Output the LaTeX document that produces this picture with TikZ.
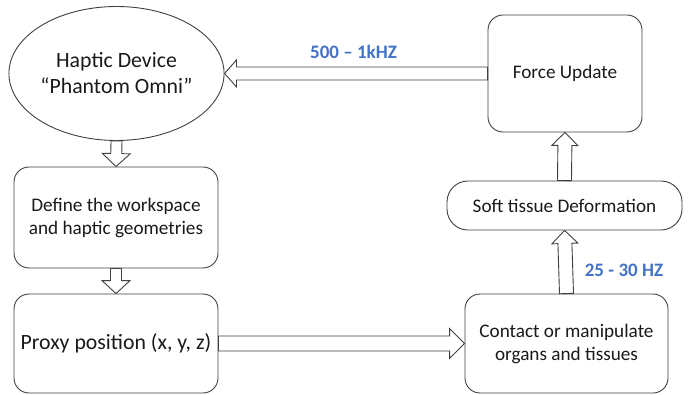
\documentclass[tikz,border=0pt]{standalone}
\usepackage{fontspec}
\setmainfont{Carlito}
\usetikzlibrary{calc,shapes.geometric}

\definecolor{edgegray}{HTML}{404040}
\definecolor{textgray}{HTML}{1A1A1A}
\definecolor{ratelabel}{HTML}{4472C4}

% hollow block arrow: start, end, shaft half-width, head half-width, head length
\newcommand\hollowarrow[5]{%
  \coordinate (ha-s) at (#1);
  \coordinate (ha-e) at (#2);
  \coordinate (ha-b) at ($(ha-e)!#5!(ha-s)$);
  \draw[flowline]
    ($(ha-s)!#3!90:(ha-e)$) -- ($(ha-b)!#3!-90:(ha-s)$) --
    ($(ha-b)!#4!-90:(ha-s)$) -- (ha-e) --
    ($(ha-b)!#4!90:(ha-s)$) -- ($(ha-b)!#3!90:(ha-s)$) --
    ($(ha-s)!#3!-90:(ha-e)$) -- cycle;}

\begin{document}
\begin{tikzpicture}[x=1pt,y=-1pt,
  flowline/.style={draw=edgegray,line width=0.9pt,fill=white,line join=miter},
  boxbase/.style={draw=edgegray,line width=0.9pt,fill=white,inner sep=0pt,
    align=center,text=textgray},
  stepbox/.style={boxbase,rectangle,rounded corners=15pt},
  bigtext/.style={font=\fontsize{21.8}{26}\selectfont},
  smalltext/.style={font=\fontsize{19.2}{23}\selectfont},
  rate/.style={text=ratelabel,font=\fontsize{19}{23}\selectfont\bfseries}]

\useasboundingbox (0,0) rectangle (690,395);

% nodes
\node[boxbase,ellipse,minimum width=207pt,minimum height=134pt,bigtext]
  (hd) at (116.5,73.5) {Haptic Device\\“Phantom Omni”};
\node[stepbox,minimum width=204pt,minimum height=101pt,smalltext]
  (def) at (116,217.5) {Define the workspace\\and haptic geometries};
\node[stepbox,minimum width=204pt,minimum height=99pt,bigtext]
  (proxy) at (116,343.5) {Proxy position (x, y, z)};
\node[stepbox,minimum width=203pt,minimum height=99pt,smalltext]
  (contact) at (566.5,343.5) {Contact or manipulate\\organs and tissues};
\node[stepbox,rounded corners=21pt,minimum width=235pt,minimum height=49pt,smalltext]
  (soft) at (564.5,205.5) {Soft tissue Deformation};
\node[stepbox,minimum width=154pt,minimum height=117pt,smalltext]
  (force) at (565,73.5) {Force Update};

% connectors
\hollowarrow{hd.south}{def.north}{5.5pt}{14pt}{13pt}
\hollowarrow{def.south}{proxy.north}{5.5pt}{14pt}{13pt}
\hollowarrow{proxy.east}{contact.west}{7.5pt}{15pt}{15pt}
\hollowarrow{contact.north}{soft.south}{7pt}{13pt}{13pt}
\hollowarrow{soft.north}{force.south}{7pt}{13pt}{13pt}
\hollowarrow{force.west}{hd.east}{6.5pt}{13.5pt}{12pt}

% update rates
\node[rate] (hapticrate) at (353.5,52) {500 – 1kHZ};
\node[rate] (simrate) at (624,270) {25 - 30 HZ};
\end{tikzpicture}
\end{document}
